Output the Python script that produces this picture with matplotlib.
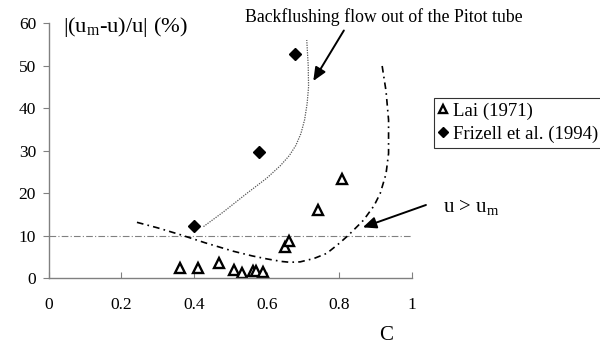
import matplotlib
matplotlib.use("Agg")
import matplotlib.pyplot as plt

plt.rcParams['font.family'] = ['Liberation Serif', 'DejaVu Serif']
plt.rcParams['mathtext.fontset'] = 'custom'
plt.rcParams['mathtext.rm'] = 'Liberation Serif'
plt.rcParams['mathtext.it'] = 'Liberation Serif:italic'

# Lai (1971)
lai_c = [0.362, 0.412, 0.470, 0.511, 0.533, 0.561, 0.571, 0.591, 0.651, 0.661, 0.740, 0.807]
lai_e = [2.3, 2.3, 3.5, 1.9, 1.2, 1.7, 1.7, 1.5, 7.3, 8.7, 15.9, 23.3]
# Frizell et al. (1994)
fri_c = [0.400, 0.580, 0.678]
fri_e = [12.3, 29.7, 52.7]

# backflushing boundary (dotted)
back_c = [0.426, 0.48, 0.545, 0.60, 0.637, 0.662, 0.680, 0.694, 0.704, 0.711, 0.715, 0.714, 0.710]
back_e = [12.1, 15.5, 19.9, 23.5, 26.4, 28.8, 31.2, 34.0, 37.2, 41.0, 45.0, 50.0, 56.0]
# u > um boundary (dash-dot)
over_c = [0.243, 0.30, 0.362, 0.43, 0.508, 0.56, 0.60, 0.64, 0.664, 0.692, 0.73, 0.765,
          0.80, 0.825, 0.866, 0.895, 0.912, 0.928, 0.935, 0.935, 0.928, 0.917]
over_e = [13.1, 11.8, 10.2, 8.3, 6.3, 5.2, 4.5, 3.9, 3.7, 3.8, 4.6, 5.8,
          8.2, 10.1, 13.6, 17.0, 19.9, 24.5, 29.3, 37.2, 44.0, 50.1]

ref_level = 10
xticks = [0, 0.2, 0.4, 0.6, 0.8, 1]
xticklabels = ['0', '0.2', '0.4', '0.6', '0.8', '1']
yticks = [0, 10, 20, 30, 40, 50, 60]

fig = plt.figure(figsize=(6.0, 3.46), dpi=100)
ax = fig.add_axes([0.081, 0.1965, 0.606, 0.737])
ax.set_xlim(0, 1)
ax.set_ylim(0, 60)
for s in ['top', 'right']:
    ax.spines[s].set_visible(False)
for s in ['left', 'bottom']:
    ax.spines[s].set_color('#808080')
    ax.spines[s].set_linewidth(1.0)
ax.set_xticks(xticks)
ax.set_xticklabels(xticklabels)
ax.set_yticks(yticks)
ax.tick_params(axis='x', direction='in', length=4, color='#808080', labelsize=12.5, pad=14)
ax.tick_params(axis='y', direction='out', length=4, color='#808080', labelsize=12.5, pad=5)
ax.patch.set_visible(False)

ax.axhline(ref_level, color='#808080', lw=0.8, dashes=(6, 2, 1, 2), clip_on=False)
ax.plot(back_c, back_e, color='#555555', lw=0.9, linestyle=(0, (1, 1)))
ax.plot(over_c, over_e, color='black', lw=1.2, dashes=(4, 2.5, 1, 2.5))

ax.plot(lai_c, lai_e, linestyle='none', marker='^', ms=7, mfc='white', mec='black',
        mew=1.7, label='Lai (1971)')
ax.plot(fri_c, fri_e, linestyle='none', marker='D', ms=6.5, mfc='black', mec='black',
        label='Frizell et al. (1994)')

leg = ax.legend(loc='upper left', bbox_to_anchor=(434 / 600, 1 - 98 / 346),
                bbox_transform=fig.transFigure, frameon=True, fancybox=False,
                edgecolor='black', fontsize=13.5, handlelength=0.5, handletextpad=0.25,
                borderpad=0.25, labelspacing=0.3, borderaxespad=0, markerscale=0.85)
leg.get_frame().set_linewidth(0.8)

ax.text(0.04, 59, r'|(u$_\mathrm{m}$-u)/u| (%)', fontsize=16.2, ha='left', va='center')
ax.text(0.923, 61.4, 'Backflushing flow out of the Pitot tube', fontsize=12.8,
        ha='center', va='center', clip_on=False)
ax.annotate('', xy=(0.724, 45.8), xytext=(0.816, 58.8),
            arrowprops=dict(arrowstyle='-|>,head_length=0.8,head_width=0.35', color='black', lw=1.4),
            annotation_clip=False)
ax.text(1.085, 16.7, r'u > u$_\mathrm{m}$', fontsize=15, ha='left', va='center', clip_on=False)
ax.annotate('', xy=(0.857, 11.7), xytext=(1.045, 17.4),
            arrowprops=dict(arrowstyle='-|>,head_length=0.8,head_width=0.35', color='black', lw=1.4),
            annotation_clip=False)
ax.text(0.928, -13.6, 'C', fontsize=15, ha='center', va='center', clip_on=False)

fig.savefig('out.png', dpi=100)
